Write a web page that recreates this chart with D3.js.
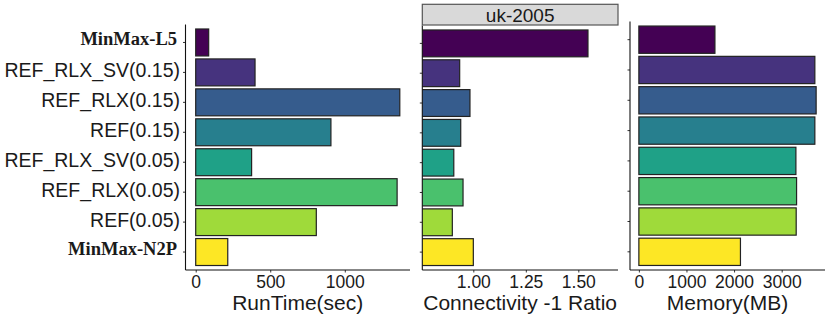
<!DOCTYPE html>
<html>
  <head>
    <script src="https://d3js.org/d3.v7.min.js"></script>
    <meta charset="utf-8">
    <title>uk-2005 comparison</title>
    <style>
      body { margin: 0; background: #fff; }
      svg { display: block; }
      text { font-family: "Liberation Sans", Arial, sans-serif; fill: #1a1a1a; }
    </style>
  </head>
  <body>
    <script>
      // data
      const methods = ["MinMax-L5", "REF_RLX_SV(0.15)", "REF_RLX(0.15)", "REF(0.15)",
                       "REF_RLX_SV(0.05)", "REF_RLX(0.05)", "REF(0.05)", "MinMax-N2P"];
      const boldMethods = ["MinMax-L5", "MinMax-N2P"];
      const runtime = [87, 398, 1369, 907, 375, 1351, 809, 215];
      const ratio = [1.546, 0.935, 0.984, 0.94, 0.907, 0.951, 0.90, 1.00];
      const memory = [1598, 3697, 3724, 3697, 3299, 3313, 3305, 2134];
      const colors = ["#440154", "#46337E", "#365C8D", "#277F8E",
                      "#1FA187", "#4AC16D", "#9FDA3A", "#FDE725"];
      const runtimeTicks = [0, 500, 1000];
      const ratioTicks = [1.00, 1.25, 1.50];
      const memoryTicks = [0, 1000, 2000, 3000];
      const facetLabel = "uk-2005";

      const svg = d3.select("body").append("svg")
        .attr("width", 830)
        .attr("height", 320);

      const bottom = 270;

      function panel(opts) {
        const g = svg.append("g");
        const y = d3.scaleBand()
          .domain(methods)
          .range([opts.top, bottom])
          .paddingInner(0.1)
          .paddingOuter(0.15);
        const x = d3.scaleLinear().domain(opts.domain).range([opts.left, opts.right]);

        const clipId = "clip" + opts.id;
        svg.append("clipPath").attr("id", clipId)
          .append("rect")
          .attr("x", opts.left).attr("y", opts.top)
          .attr("width", opts.right - opts.left).attr("height", bottom - opts.top);

        g.append("g").attr("clip-path", `url(#${clipId})`)
          .selectAll("rect")
          .data(opts.values)
          .enter()
          .append("rect")
          .attr("x", d => x(0))
          .attr("y", (d, i) => y(methods[i]))
          .attr("width", d => x(d) - x(0))
          .attr("height", y.bandwidth())
          .attr("fill", (d, i) => colors[i])
          .attr("stroke", "#222")
          .attr("stroke-width", 1.2);

        // x axis
        const xa = g.append("g")
          .attr("transform", `translate(0,${bottom})`)
          .call(d3.axisBottom(x).tickValues(opts.ticks).tickFormat(opts.format)
            .tickSizeInner(2.5).tickSizeOuter(0).tickPadding(3));
        xa.select(".domain").remove();
        xa.selectAll("line").attr("stroke", "#333");
        xa.selectAll("text")
          .attr("font-size", "17.5px")
          .attr("dy", "0.72em")
          .attr("fill", "#1a1a1a");
        g.append("line")
          .attr("x1", opts.left).attr("x2", opts.right)
          .attr("y1", bottom).attr("y2", bottom)
          .attr("stroke", "#111").attr("stroke-width", 1.1);

        // y axis
        const ya = g.append("g")
          .attr("transform", `translate(${opts.left},0)`)
          .call(d3.axisLeft(y).tickSizeInner(2.5).tickSizeOuter(0).tickPadding(3));
        ya.select(".domain").remove();
        ya.selectAll("line").attr("stroke", "#333");
        if (opts.labels) {
          ya.selectAll("text")
            .attr("dy", d => boldMethods.includes(d) ? "3" : "4.8")
            .attr("x", d => boldMethods.includes(d) ? -8.5 : -5.5)
            .style("font-family", d => boldMethods.includes(d) ? "'Liberation Serif', 'Times New Roman', serif" : null)
            .attr("font-weight", d => boldMethods.includes(d) ? "bold" : null)
            .attr("font-size", d => boldMethods.includes(d) ? "18.5px" : "19.5px")
            .attr("fill", "#1a1a1a");
        } else {
          ya.selectAll("text").remove();
        }
        g.append("line")
          .attr("x1", opts.left).attr("x2", opts.left)
          .attr("y1", opts.top).attr("y2", bottom)
          .attr("stroke", "#111").attr("stroke-width", 1.1);

        // axis title
        g.append("text")
          .attr("x", (opts.left + opts.right) / 2)
          .attr("y", 310)
          .attr("text-anchor", "middle")
          .attr("font-size", "21px")
          .attr("fill", "#000")
          .text(opts.title);
        return g;
      }

      panel({
        id: 1, left: 185.5, right: 410, top: 24.5,
        domain: [-0.05 * d3.max(runtime), 1.05 * d3.max(runtime)],
        values: runtime, ticks: runtimeTicks, format: d3.format("d"),
        title: "RunTime(sec)", labels: true
      });

      const p2 = panel({
        id: 2, left: 422.3, right: 618, top: 25.5,
        domain: [0.757, 1.689],
        values: ratio, ticks: ratioTicks, format: d3.format(".2f"),
        title: "Connectivity -1 Ratio", labels: false
      });

      // facet strip
      p2.append("rect")
        .attr("x", 422.3).attr("y", 4.3)
        .attr("width", 618 - 422.3).attr("height", 20.7)
        .attr("fill", "#d9d9d9")
        .attr("stroke", "#555")
        .attr("stroke-width", 1.2);
      p2.append("text")
        .attr("x", (422.3 + 618) / 2)
        .attr("y", 22)
        .attr("text-anchor", "middle")
        .attr("font-size", "19px")
        .text(facetLabel);

      panel({
        id: 3, left: 630, right: 825, top: 21.5,
        domain: [-0.05 * d3.max(memory), 1.05 * d3.max(memory)],
        values: memory, ticks: memoryTicks, format: d3.format("d"),
        title: "Memory(MB)", labels: false
      });
    </script>
  </body>
</html>
